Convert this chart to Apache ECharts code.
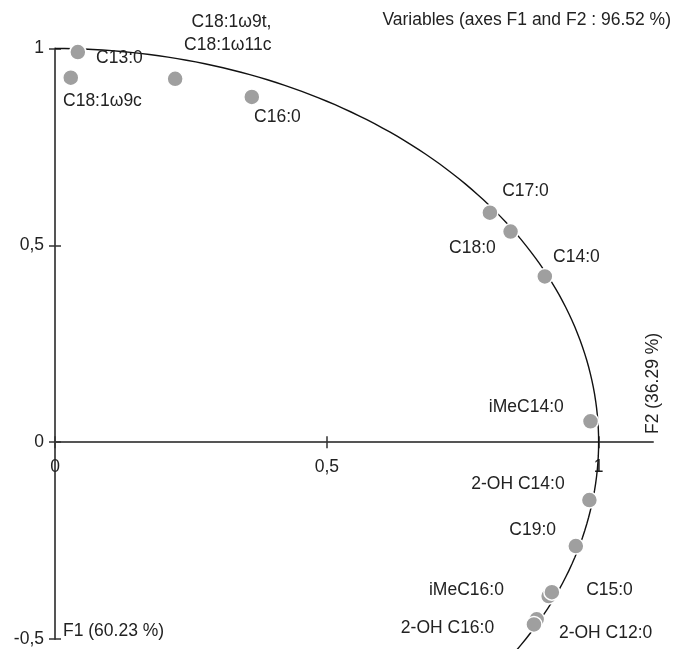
<!DOCTYPE html>
<html>
<head>
<meta charset="utf-8">
<script src="https://cdn.jsdelivr.net/npm/echarts@6/dist/echarts.min.js"></script>
<style>
    html, body { margin: 0; padding: 0; background: #fff; }
    #circle { width: 678px; height: 649px; }
</style>
</head>
<body>
<div id="circle"></div>
<script>
    // variables on the correlation circle
    var names = ['C18:1ω9c', 'C13:0', 'C18:1ω9t,\nC18:1ω11c', 'C16:0', 'C17:0', 'C18:0', 'C14:0',
        'iMeC14:0', '2-OH C14:0', 'C19:0', 'iMeC16:0', 'C15:0', '2-OH C12:0', '2-OH C16:0'];
    var f1 = [0.029, 0.042, 0.221, 0.362, 0.800, 0.838, 0.901, 0.985, 0.983, 0.958, 0.908, 0.914, 0.886, 0.881];
    var f2 = [0.926, 0.991, 0.923, 0.877, 0.583, 0.535, 0.421, 0.053, -0.147, -0.264, -0.391, -0.381, -0.450, -0.463];
    var xTicks = [0, 0.5, 1];
    var yTicks = [-0.5, 0, 0.5, 1];

    // label placement next to each dot: [dx, dy, align]
    var labelPlace = [[-7, 24, 'left'], [19, 7, 'left'], [97, -44, 'right'], [3, 21, 'left'], [13, -21, 'left'],
        [-14, 17, 'right'], [9, -19, 'left'], [-26, -13, 'right'], [-24, -15, 'right'], [-19, -15, 'right'],
        [-44, -5, 'right'], [35, -1, 'left'], [23, 15, 'left'], [-39, 4, 'right']];

    var font = '"Liberation Sans", Arial, sans-serif';
    var fs = 17.5;
    var txt = '#222';
    var dot = 16;

    var gridTop = 48.5, gridBottom = 10, H = 649;
    var yMin = -0.5, yMax = 1;
    // the F1 axis runs through F2 = 0, so shift it up from the bottom of the grid
    var zeroShift = -(0 - yMin) / (yMax - yMin) * (H - gridTop - gridBottom);

    var seriesData = names.map(function (n, i) {
        var p = labelPlace[i];
        return {
            name: n,
            value: [f1[i], f2[i]],
            label: { position: [dot / 2 + p[0], dot / 2 + p[1]], align: p[2], verticalAlign: 'middle' }
        };
    });

    function comma(v) { return String(v).replace('.', ','); }

    var tickStyle = { color: '#333', width: 1.5 };

    var myChart = echarts.init(document.getElementById('circle'));
    var option = {
        animation: false,
        backgroundColor: '#fff',
        textStyle: { fontFamily: font },
        title: {
            text: 'Variables (axes F1 and F2 : 96.52 %)',
            right: 2, top: 6,
            textStyle: { fontSize: fs, fontWeight: 'normal', color: txt, fontFamily: font }
        },
        grid: { left: 55, right: 25, top: gridTop, bottom: gridBottom, containLabel: false, outerBoundsMode: 'none' },
        xAxis: [{
            type: 'value', min: 0, max: 1.1, interval: 0.5, position: 'bottom', offset: zeroShift,
            axisLine: { onZero: false, lineStyle: { color: '#555', width: 2 } },
            axisTick: { show: true, length: 6, customValues: xTicks, lineStyle: tickStyle },
            axisLabel: { customValues: xTicks, margin: 16, fontSize: fs, color: txt, fontFamily: font, formatter: comma },
            splitLine: { show: false }
        }, {
            type: 'value', min: 0, max: 1.1, interval: 0.5, position: 'bottom', offset: zeroShift,
            axisLine: { show: false, onZero: false },
            axisTick: { show: true, inside: true, length: 6, customValues: xTicks, lineStyle: tickStyle },
            axisLabel: { show: false },
            splitLine: { show: false }
        }],
        yAxis: [{
            type: 'value', min: yMin, max: yMax, interval: 0.5,
            axisLine: { onZero: false, lineStyle: { color: '#555', width: 2 } },
            axisTick: { show: true, length: 6, customValues: yTicks, lineStyle: tickStyle },
            axisLabel: { customValues: yTicks, margin: 11, fontSize: fs, color: txt, fontFamily: font, formatter: comma },
            splitLine: { show: false }
        }, {
            type: 'value', min: yMin, max: yMax, interval: 0.5, position: 'left',
            axisLine: { show: false, onZero: false },
            axisTick: { show: true, inside: true, length: 6, customValues: yTicks, lineStyle: tickStyle },
            axisLabel: { show: false },
            splitLine: { show: false }
        }],
        graphic: [{
            type: 'text', left: 63, top: 622,
            style: { text: 'F1 (60.23 %)', fill: txt, font: fs + 'px ' + font }
        }, {
            type: 'text', x: 653, y: 434, rotation: Math.PI / 2,
            style: { text: 'F2 (36.29 %)', fill: txt, font: fs + 'px ' + font, align: 'left', verticalAlign: 'middle' }
        }],
        series: [{
            // unit correlation circle, drawn from the top down past the bottom edge
            type: 'custom',
            clip: false,
            silent: true,
            z: 1,
            data: [[0, 0]],
            renderItem: function (params, api) {
                var pts = [];
                for (var a = 90; a >= -36; a -= 1) {
                    var r = a * Math.PI / 180;
                    pts.push(api.coord([Math.cos(r), Math.sin(r)]));
                }
                return {
                    type: 'polyline',
                    shape: { points: pts },
                    style: { stroke: '#111', lineWidth: 1.4, fill: null }
                };
            }
        }, {
            type: 'scatter',
            z: 3,
            symbolSize: dot,
            itemStyle: { color: '#9f9f9f', borderColor: '#fff', borderWidth: 1.5, opacity: 1 },
            label: {
                show: true,
                formatter: '{b}',
                fontSize: fs,
                lineHeight: 23,
                color: txt,
                fontFamily: font
            },
            labelLayout: { hideOverlap: false },
            data: seriesData
        }]
    };

    option && myChart.setOption(option);
</script>
</body>
</html>
